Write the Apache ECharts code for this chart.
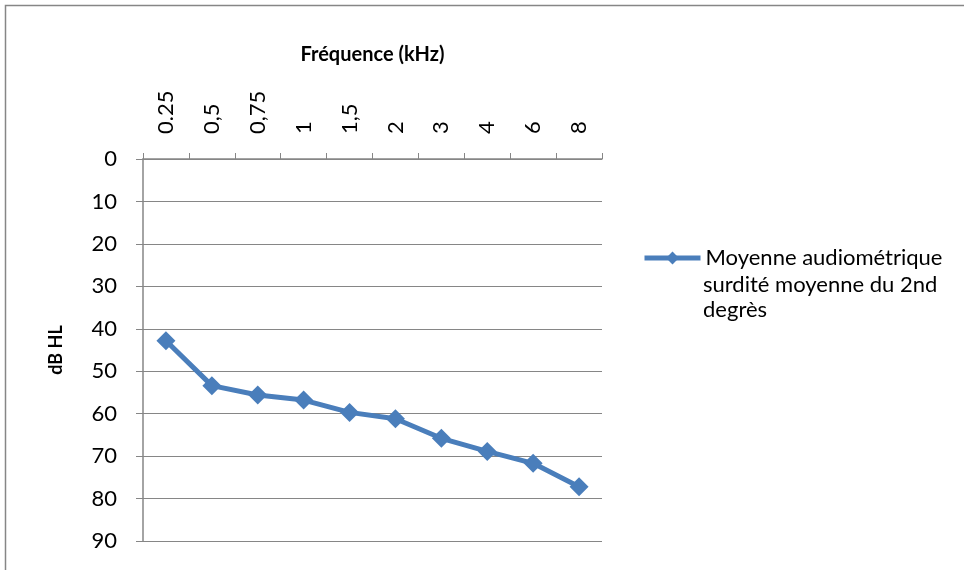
<!DOCTYPE html>
<html>
<head>
<meta charset="utf-8">
<script src="https://cdn.jsdelivr.net/npm/echarts@6/dist/echarts.min.js"></script>
<style>
  html, body { margin: 0; padding: 0; background: #fff; }
  #main { width: 964px; height: 570px; }
</style>
</head>
<body>
<div id="main"></div>
<script>
// fréquences (kHz) et moyenne audiométrique (dB HL)
var frequences = ["0.25", "0,5", "0,75", "1", "1,5", "2", "3", "4", "6", "8"];
var moyenne = [42.8, 53.4, 55.6, 56.8, 59.7, 61.2, 65.8, 68.9, 71.7, 77.2];
var lignesLegende = ["Moyenne audiométrique", "surdité moyenne du 2nd", "degrès"];
var nomSerie = lignesLegende.join("\n");

var police = "Lato, 'Noto Sans', sans-serif";
var gris = "#868686";
var bleu = "#4a7ebb";

var myChart = echarts.init(document.getElementById("main"));
myChart.setOption({
  animation: false,
  graphic: [
    {
      type: "rect",
      shape: { x: 5.5, y: 5.5, width: 1000, height: 600 },
      style: { fill: "none", stroke: gris, lineWidth: 1.5 },
      silent: true
    },
    {
      // suite du libellé de la légende (la 1re ligne est dans la légende)
      type: "text",
      x: 703,
      y: 272,
      silent: true,
      style: {
        text: lignesLegende.slice(1).join("\n"),
        font: "22px " + police,
        fill: "#000",
        lineHeight: 25,
        verticalAlign: "top"
      }
    }
  ],
  grid: {
    left: 143,
    right: 362,
    top: 159,
    bottom: 29
  },
  legend: {
    orient: "vertical",
    left: 642,
    top: 247,
    padding: 0,
    itemWidth: 56,
    itemHeight: 16,
    data: [nomSerie],
    formatter: function (name) {
      return name.split("\n")[0];
    },
    itemStyle: { color: bleu },
    lineStyle: { width: 5, color: bleu },
    textStyle: {
      fontFamily: police,
      fontSize: 22,
      color: "#000"
    }
  },
  xAxis: {
    type: "category",
    position: "top",
    data: frequences,
    name: "Fréquence (kHz)",
    nameLocation: "middle",
    nameGap: 94,
    nameTextStyle: {
      fontFamily: police,
      fontWeight: "bold",
      fontSize: 20,
      color: "#000"
    },
    axisLine: { lineStyle: { color: gris, width: 1.5 } },
    axisTick: { show: true, length: 6, lineStyle: { color: gris } },
    axisLabel: {
      rotate: 90,
      margin: 25,
      interval: 0,
      fontFamily: police,
      fontSize: 22,
      color: "#000"
    },
    splitLine: { show: false }
  },
  yAxis: {
    type: "value",
    inverse: true,
    min: 0,
    max: 90,
    interval: 10,
    name: "dB HL",
    nameLocation: "middle",
    nameRotate: 90,
    nameGap: 78,
    nameTextStyle: {
      fontFamily: police,
      fontWeight: "bold",
      fontSize: 18,
      color: "#000"
    },
    axisLine: { show: true, lineStyle: { color: gris, width: 1.5 } },
    axisTick: { show: true, length: 7, lineStyle: { color: gris } },
    axisLabel: {
      margin: 26,
      fontFamily: police,
      fontSize: 22,
      color: "#000"
    },
    splitLine: { show: true, lineStyle: { color: gris, width: 1.2 } }
  },
  series: [
    {
      name: nomSerie,
      type: "line",
      data: moyenne,
      symbol: "diamond",
      symbolSize: 19,
      color: bleu,
      lineStyle: { width: 5, color: bleu },
      itemStyle: { color: bleu }
    }
  ]
});
</script>
</body>
</html>
